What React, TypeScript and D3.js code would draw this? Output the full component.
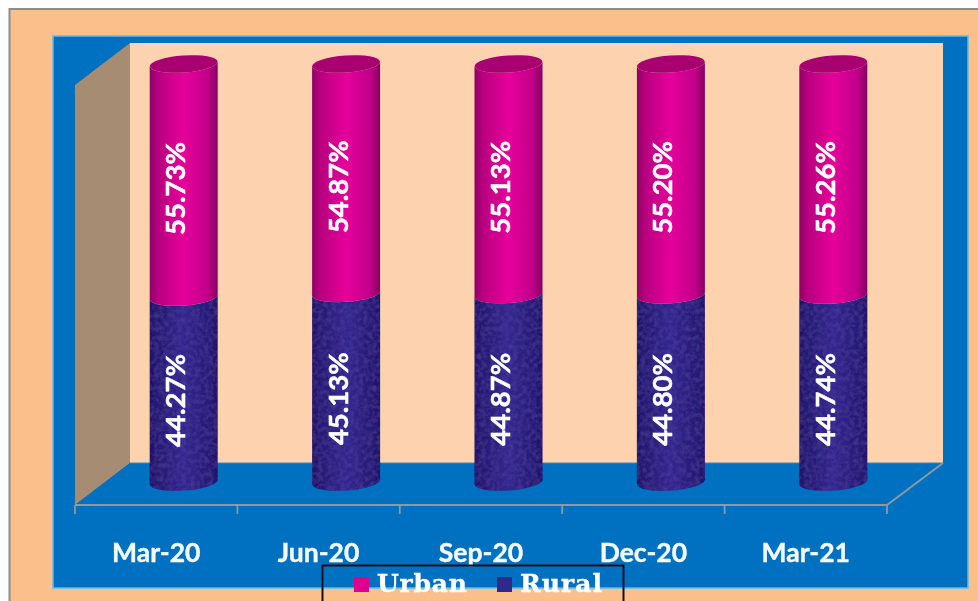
import React from "react";
import * as d3 from "d3";

const categories = ["Mar-20", "Jun-20", "Sep-20", "Dec-20", "Mar-21"];
const urban = [55.73, 54.87, 55.13, 55.2, 55.26];
const rural = [44.27, 45.13, 44.87, 44.8, 44.74];
const legendItems = ["Urban", "Rural"];

const W = 978, H = 601;
const frontL = 75, frontR = 887, frontY = 505;
const backL = 130, backR = 943, backT = 43, backB = 463;
const depthX = 27.5;
const barW = 68, ry = 8.5, tilt = -4;

const x = d3.scaleBand<string>().domain(categories).range([frontL, frontR]);
const y = d3.scaleLinear().domain([0, 100]).range([482, 64]);

const cylinder = (cx: number, top: number, bottom: number) => {
  const rx = barW / 2;
  const dy = rx * Math.sin((tilt * Math.PI) / 180);
  return (
    `M${cx - rx},${top - dy} L${cx - rx},${bottom - dy} ` +
    `A${rx},${ry} ${tilt} 0 0 ${cx + rx},${bottom + dy} ` +
    `L${cx + rx},${top + dy} ` +
    `A${rx},${ry} ${tilt} 0 1 ${cx - rx},${top - dy} Z`
  );
};

const labelFont = "Lato, 'Open Sans', sans-serif";

export default function App() {
  const ticks = [...categories.map((c) => x(c) as number), frontR];
  const valueLabel = (tx: number, ty: number, v: number) => (
    <text
      transform={`translate(${tx},${ty}) rotate(-90)`}
      textAnchor="middle"
      dominantBaseline="central"
      fontFamily={labelFont}
      fontWeight={700}
      fontSize={27.5}
      fill="#FFFFFF"
      stroke="#FFFFFF"
      strokeWidth={0.5}
    >
      {v.toFixed(2)}%
    </text>
  );
  return (
    <svg width={W} height={H} viewBox={`0 0 ${W} ${H}`} style={{ position: "absolute", left: 0, top: 0 }}>
      <defs>
        <linearGradient id="urbanG" x1="0" x2="1" y1="0" y2="0">
          <stop offset="0" stopColor="#8E0066" />
          <stop offset="0.12" stopColor="#B8007F" />
          <stop offset="0.5" stopColor="#E6009A" />
          <stop offset="0.85" stopColor="#C2008A" />
          <stop offset="1" stopColor="#860062" />
        </linearGradient>
        <linearGradient id="ruralG" x1="0" x2="1" y1="0" y2="0">
          <stop offset="0" stopColor="#22176A" />
          <stop offset="0.5" stopColor="#352890" />
          <stop offset="1" stopColor="#22176C" />
        </linearGradient>
        <filter id="mottle" x="0" y="0" width="1" height="1">
          <feTurbulence type="fractalNoise" baseFrequency="0.22" numOctaves="2" seed="4" result="n" />
          <feColorMatrix in="n" type="matrix" values="0 0 0 0 0.1  0 0 0 0 0.07  0 0 0 0 0.38  0.8 0 0 0 -0.28" result="c" />
          <feComposite in="c" in2="SourceAlpha" operator="in" result="m" />
          <feMerge>
            <feMergeNode in="SourceGraphic" />
            <feMergeNode in="m" />
          </feMerge>
        </filter>
        <filter id="soft" x="0" y="0" width="1" height="1">
          <feGaussianBlur stdDeviation="0.55" />
        </filter>
      </defs>

      <g filter="url(#soft)">
        <rect width={W} height={H} fill="#FFFFFF" />
        <rect x={9.5} y={9} width={W} height={H} fill="#FBBF8C" stroke="#8C8C8C" strokeWidth={2} />
        <rect x={53} y={36} width={915} height={552} fill="#0070C0" stroke="#5DBCE8" strokeWidth={1.5} />

        <rect x={backL} y={backT} width={backR - backL} height={backB - backT} fill="#FDD2AE" />
        <polygon points={`${backL},${backT} ${frontL},85 ${frontL},${frontY} ${backL},${backB}`} fill="#A68C72" />
        <polygon points={`${backL},${backB} ${backR},${backB} ${frontR},${frontY} ${frontL},${frontY}`} fill="#0070C0" />
        <line x1={backL} x2={backR} y1={backB} y2={backB} stroke="#5F7F96" strokeWidth={1} />
        <polyline
          points={`${frontL},${frontY} ${frontR},${frontY} ${backR},${backB}`}
          fill="none"
          stroke="#8E99A0"
          strokeWidth={1.8}
        />
        {ticks.map((t, i) => (
          <line key={i} x1={t} x2={t} y1={frontY} y2={frontY + 9} stroke="#8E99A0" strokeWidth={1.8} />
        ))}

        {categories.map((c, i) => {
          const cx = (x(c) as number) + x.bandwidth() / 2 + depthX;
          const y0 = y(0), y1 = y(rural[i]), y2 = y(rural[i] + urban[i]);
          return (
            <g key={c}>
              <path d={cylinder(cx, y1, y0)} fill="url(#ruralG)" filter="url(#mottle)" />
              <path d={cylinder(cx, y2, y1)} fill="url(#urbanG)" />
              <ellipse
                cx={cx}
                cy={y2}
                rx={barW / 2}
                ry={ry}
                fill="#A8006F"
                transform={`rotate(${tilt} ${cx} ${y2})`}
              />
              {valueLabel(cx - 9, (y1 + y2) / 2 + 8, urban[i])}
              {valueLabel(cx - 9, (y0 + y1) / 2 + 11, rural[i])}
              <text
                x={(x(c) as number) + x.bandwidth() / 2}
                y={562}
                textAnchor="middle"
                fontFamily={labelFont}
                fontWeight={700}
                fontSize={26.5}
                fill="#F4FBFF"
                stroke="#F4FBFF"
                strokeWidth={0.4}
              >
                {c}
              </text>
            </g>
          );
        })}

        <rect x={322.5} y={565.5} width={301} height={50} fill="none" stroke="#101018" strokeWidth={2} />
        {legendItems.map((name, i) => {
          const lx = [354, 497][i];
          return (
            <g key={name}>
              <rect x={lx} y={577} width={15} height={15} fill={i === 0 ? "#E0008F" : "#2E2A8C"} />
              <text
                x={lx + 23}
                y={592}
                fontFamily="'DejaVu Serif', serif"
                fontWeight={700}
                fontSize={25}
                fill="#FFFFFF"
                stroke="#FFFFFF"
                strokeWidth={0.4}
                textLength={i === 0 ? 90 : 82}
              >
                {name}
              </text>
            </g>
          );
        })}
      </g>
    </svg>
  );
}
